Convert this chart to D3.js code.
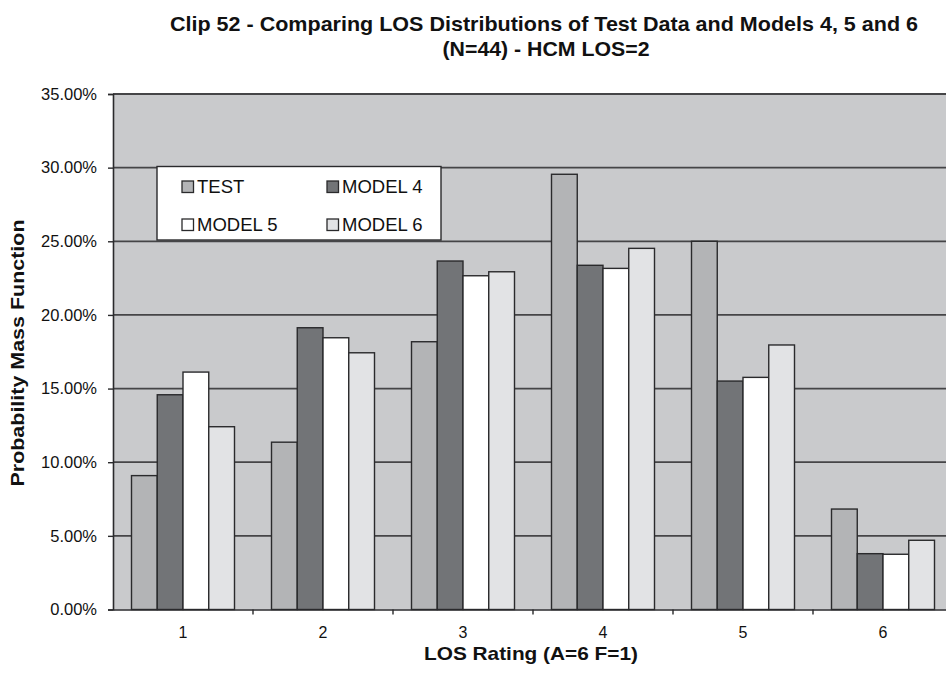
<!DOCTYPE html>
<html>
<head>
<meta charset="utf-8">
<script src="https://cdn.jsdelivr.net/npm/d3@7/dist/d3.min.js"></script>
<style>
  html, body { margin: 0; padding: 0; background: #fff; overflow: hidden; }
  svg { display: block; font-family: "Liberation Sans", Arial, sans-serif; }
</style>
</head>
<body>
<svg id="chart" width="946" height="673"></svg>
<script>
const categories = ["1", "2", "3", "4", "5", "6"];
const seriesNames = ["TEST", "MODEL 4", "MODEL 5", "MODEL 6"];
const testValues   = [9.09, 11.36, 18.18, 29.55, 25.00, 6.82];
const model4Values = [14.58, 19.13, 23.66, 23.37, 15.51, 3.79];
const model5Values = [16.12, 18.45, 22.66, 23.16, 15.76, 3.75];
const model6Values = [12.41, 17.43, 22.93, 24.52, 17.96, 4.70];
const yTicks = [0, 5, 10, 15, 20, 25, 30, 35];
const seriesColors = ["#b3b4b6", "#727477", "#ffffff", "#e2e3e5"];

const allSeries = [testValues, model4Values, model5Values, model6Values];

const svg = d3.select("#chart");
const plot = { left: 113, top: 94, right: 953, bottom: 609.5 };

const x = d3.scaleBand().domain(categories).range([plot.left, plot.right]);
const innerWidth = 103;
const x1 = d3.scaleBand().domain(seriesNames)
  .range([(x.bandwidth() - innerWidth) / 2, (x.bandwidth() + innerWidth) / 2]);
const y = d3.scaleLinear().domain([0, 35]).range([plot.bottom, plot.top]);

// plot background
svg.append("rect")
  .attr("x", plot.left).attr("y", plot.top)
  .attr("width", plot.right - plot.left).attr("height", plot.bottom - plot.top)
  .attr("fill", "#c9cacc");

// gridlines
svg.append("g").selectAll("line").data(yTicks.filter(d => d > 0)).join("line")
  .attr("x1", plot.left).attr("x2", plot.right)
  .attr("y1", d => y(d)).attr("y2", d => y(d))
  .attr("stroke", "#454547").attr("stroke-width", d => d === 35 ? 2 : 1.8);

// bars
const groups = svg.append("g").selectAll("g").data(categories).join("g")
  .attr("transform", d => `translate(${x(d)},0)`);
groups.selectAll("rect")
  .data((c, ci) => seriesNames.map((s, si) => ({ s, si, v: allSeries[si][ci] })))
  .join("rect")
  .attr("x", d => x1(d.s))
  .attr("width", x1.bandwidth())
  .attr("y", d => y(d.v))
  .attr("height", d => y(0) - y(d.v))
  .attr("fill", d => seriesColors[d.si])
  .attr("stroke", "#2a2a2c").attr("stroke-width", 1.4);

// y axis
const yAxis = d3.axisLeft(y).tickValues(yTicks).tickSize(5).tickPadding(11)
  .tickFormat(d => d3.format(".2f")(d) + "%");
const yg = svg.append("g").attr("transform", `translate(${plot.left},0)`).call(yAxis)
  .attr("font-size", 16.5).attr("font-family", "Liberation Sans, Arial, sans-serif");
yg.select(".domain").attr("stroke", "#2a2a2c").attr("stroke-width", 1.6);
yg.selectAll(".tick line").attr("stroke", "#2a2a2c").attr("stroke-width", 1.4);
yg.selectAll(".tick text").attr("fill", "#111");

// x axis
const xAxis = d3.axisBottom(x).tickSize(0).tickPadding(17);
const xg = svg.append("g").attr("transform", `translate(0,${plot.bottom})`).call(xAxis)
  .attr("font-size", 16).attr("font-family", "Liberation Sans, Arial, sans-serif");
xg.select(".domain").attr("stroke", "#2a2a2c").attr("stroke-width", 1.6);
xg.selectAll(".tick text").attr("fill", "#111");
// category boundary ticks
svg.append("g").selectAll("line").data(categories.slice(1)).join("line")
  .attr("x1", d => x(d)).attr("x2", d => x(d))
  .attr("y1", plot.bottom).attr("y2", plot.bottom + 5)
  .attr("stroke", "#2a2a2c").attr("stroke-width", 1.4);

// legend
const legend = svg.append("g");
legend.append("rect")
  .attr("x", 157).attr("y", 166.5).attr("width", 284).attr("height", 73.5)
  .attr("fill", "#fff").attr("stroke", "#2a2a2c").attr("stroke-width", 1.4);
const legPos = [[182, 187], [327, 187], [182, 225], [327, 225]];
seriesNames.forEach((s, i) => {
  const [lx, ly] = legPos[i];
  legend.append("rect")
    .attr("x", lx).attr("y", ly - 6).attr("width", 11.5).attr("height", 11.5)
    .attr("fill", seriesColors[i]).attr("stroke", "#2a2a2c").attr("stroke-width", 1.3);
  legend.append("text")
    .attr("x", lx + 15).attr("y", ly + 6)
    .attr("font-size", 18.5).attr("fill", "#111").text(s);
});

// titles
const title = svg.append("g").attr("font-family", "Liberation Sans Narrow, Liberation Sans, Arial, sans-serif")
  .attr("font-weight", "bold").attr("font-size", 21).attr("fill", "#111").attr("text-anchor", "middle");
title.append("text").attr("x", 544).attr("y", 31)
  .attr("textLength", 748).attr("lengthAdjust", "spacingAndGlyphs")
  .text("Clip 52 - Comparing LOS Distributions of Test Data and Models 4, 5 and 6");
title.append("text").attr("x", 546).attr("y", 56)
  .attr("textLength", 207).attr("lengthAdjust", "spacingAndGlyphs")
  .text("(N=44) - HCM LOS=2");

svg.append("text")
  .attr("transform", "translate(24,353) rotate(-90)")
  .attr("text-anchor", "middle").attr("font-weight", "bold").attr("font-size", 19)
  .attr("textLength", 267).attr("lengthAdjust", "spacingAndGlyphs")
  .attr("fill", "#111").text("Probability Mass Function");

svg.append("text")
  .attr("x", 531).attr("y", 660)
  .attr("text-anchor", "middle").attr("font-weight", "bold").attr("font-size", 19)
  .attr("textLength", 214).attr("lengthAdjust", "spacingAndGlyphs")
  .attr("fill", "#111").text("LOS Rating (A=6 F=1)");
</script>
</body>
</html>
